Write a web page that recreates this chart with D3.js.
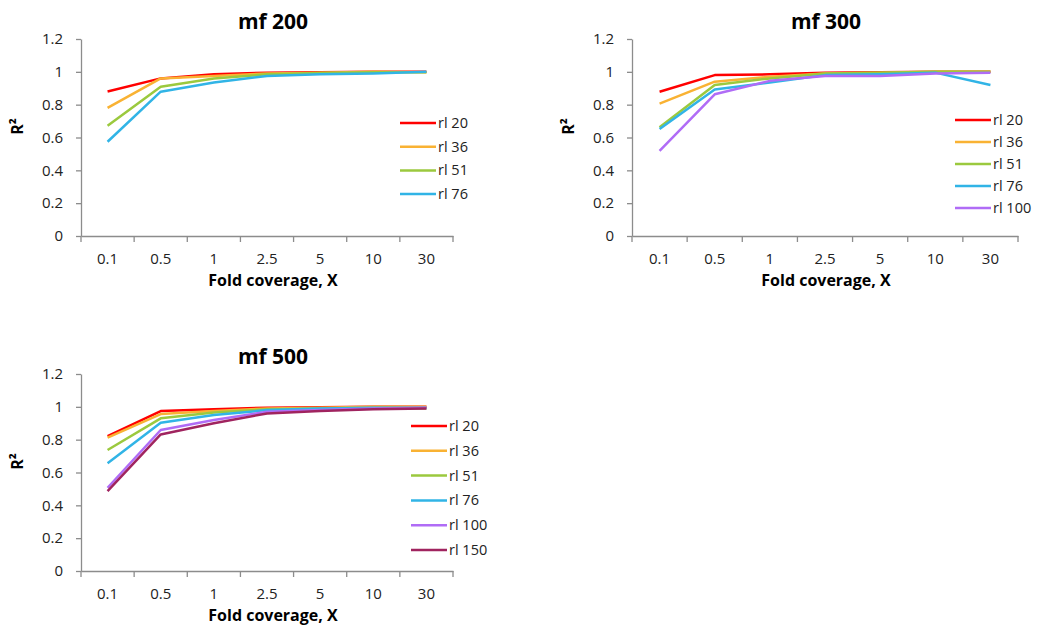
<!DOCTYPE html>
<html>
<head>
<meta charset="utf-8">
<script src="https://cdn.jsdelivr.net/npm/d3@7"></script>
<style>
  body { margin: 0; background: #fff; }
  svg text { font-family: "Open Sans", Lato, sans-serif; }
</style>
</head>
<body>
<svg id="chart" width="1039" height="626"></svg>
<script>
const coverage = ["0.1", "0.5", "1", "2.5", "5", "10", "30"];
const yTicks = [0, 0.2, 0.4, 0.6, 0.8, 1, 1.2];

const readLengths = ["rl 20", "rl 36", "rl 51", "rl 76", "rl 100", "rl 150"];
const colors = ["#ff0000", "#f9b233", "#9bc93e", "#31b4e6", "#b06cf6", "#a0245f"];

// mf 200
const mf200 = [
  [0.88, 0.96, 0.985, 0.995, 0.997, 1.0, 1.0],
  [0.78, 0.96, 0.975, 0.99, 0.995, 1.0, 0.998],
  [0.672, 0.909, 0.96, 0.985, 0.993, 0.997, 0.998],
  [0.574, 0.879, 0.935, 0.975, 0.985, 0.99, 1.0]
];
// mf 300
const mf300 = [
  [0.879, 0.98, 0.985, 0.995, 0.997, 1.0, 1.0],
  [0.806, 0.94, 0.97, 0.99, 0.995, 1.0, 1.0],
  [0.662, 0.92, 0.96, 0.99, 0.995, 1.0, 1.0],
  [0.652, 0.893, 0.935, 0.98, 0.985, 0.995, 0.92],
  [0.518, 0.863, 0.945, 0.975, 0.975, 0.99, 0.995]
];
// mf 500
const mf500 = [
  [0.822, 0.974, 0.985, 0.995, 0.997, 1.0, 1.0],
  [0.812, 0.956, 0.975, 0.99, 0.995, 1.0, 1.0],
  [0.737, 0.93, 0.965, 0.985, 0.99, 0.995, 0.99],
  [0.656, 0.903, 0.95, 0.98, 0.99, 0.995, 0.995],
  [0.507, 0.859, 0.92, 0.97, 0.98, 0.99, 0.995],
  [0.487, 0.832, 0.9, 0.96, 0.975, 0.985, 0.99]
];

const svg = d3.select("#chart");

function drawPanel(opt) {
  const { title, values, x0, x1, yTop, yBottom, legendX, legendY, legendStep, textDx } = opt;
  const g = svg.append("g");

  const x = d3.scaleBand().domain(coverage).range([x0, x1]);
  const y = d3.scaleLinear().domain([0, 1.2]).range([yBottom, yTop]);

  // y axis
  const yAxis = g.append("g")
    .attr("transform", `translate(${x0},0)`)
    .call(d3.axisLeft(y).tickValues(yTicks).tickFormat(d3.format("")).tickSize(5).tickSizeOuter(0).tickPadding(13));
  // x axis
  const xAxis = g.append("g")
    .attr("transform", `translate(0,${yBottom})`)
    .call(d3.axisBottom(x).tickSize(0).tickPadding(17));

  // tick marks at band edges for x axis
  const edges = coverage.map(c => x(c)).concat([x1]);
  xAxis.selectAll(".edge").data(edges).join("line")
    .attr("x1", d => d).attr("x2", d => d)
    .attr("y1", 0).attr("y2", 6)
    .attr("stroke", "#8c8c8c").attr("stroke-width", 1.3);

  [yAxis, xAxis].forEach(a => {
    a.select(".domain").attr("stroke", "#8c8c8c").attr("stroke-width", 1.3);
    a.selectAll(".tick line").attr("stroke", "#8c8c8c").attr("stroke-width", 1.3);
    a.selectAll(".tick text").attr("font-size", 15).attr("fill", "#222")
      .style("font-family", "'Open Sans', Lato, sans-serif");
  });

  // lines
  const line = d3.line()
    .x((d, i) => x(coverage[i]) + x.bandwidth() / 2)
    .y(d => y(d));

  values.forEach((series, k) => {
    g.append("path")
      .datum(series)
      .attr("d", line)
      .attr("fill", "none")
      .attr("stroke", colors[k])
      .attr("stroke-width", 2.5)
      .attr("stroke-linejoin", "round");
  });

  const cx = (x0 + x1) / 2 + textDx;

  // title
  g.append("text")
    .attr("x", cx).attr("y", yTop - 10)
    .attr("text-anchor", "middle")
    .attr("font-size", 21).attr("font-weight", "bold").attr("fill", "#000")
    .text(title);

  // axis titles
  g.append("text")
    .attr("x", cx).attr("y", yBottom + 50)
    .attr("text-anchor", "middle")
    .attr("font-size", 16).attr("font-weight", "bold").attr("fill", "#000")
    .text("Fold coverage, X");

  g.append("text")
    .attr("transform", `translate(${x0 - 58},${(yTop + yBottom) / 2 - 11}) rotate(-90)`)
    .attr("text-anchor", "middle")
    .attr("font-size", 16).attr("font-weight", "bold").attr("fill", "#000")
    .text("R²");

  // legend
  const leg = g.append("g");
  values.forEach((s, k) => {
    const ly = legendY + k * legendStep;
    leg.append("line")
      .attr("x1", legendX).attr("x2", legendX + 36)
      .attr("y1", ly).attr("y2", ly)
      .attr("stroke", colors[k]).attr("stroke-width", 2.5);
    leg.append("text")
      .attr("x", legendX + 38).attr("y", ly)
      .attr("dy", "0.35em")
      .attr("font-size", 14.5).attr("fill", "#222")
      .text(readLengths[k]);
  });
}

drawPanel({ title: "mf 200", values: mf200, x0: 81, x1: 453, yTop: 39, yBottom: 236,
  legendX: 400, legendY: 123, legendStep: 23.7, textDx: 6 });
drawPanel({ title: "mf 300", values: mf300, x0: 632, x1: 1018, yTop: 39, yBottom: 236,
  legendX: 955, legendY: 120, legendStep: 22, textDx: 1 });
drawPanel({ title: "mf 500", values: mf500, x0: 81, x1: 453, yTop: 374, yBottom: 571,
  legendX: 411, legendY: 426, legendStep: 24.8, textDx: 6 });
</script>
</body>
</html>
